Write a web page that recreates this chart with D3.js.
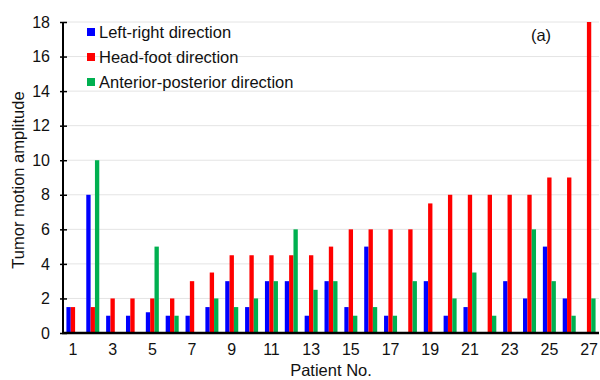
<!DOCTYPE html>
<html>
<head>
<meta charset="utf-8">
<script src="https://cdn.jsdelivr.net/npm/d3@7"></script>
<style>
  body { margin: 0; background: #fff; }
  text { font-family: "Liberation Sans", Arial, sans-serif; }
</style>
</head>
<body>
<svg id="canvas" width="600" height="380"></svg>
<script>
let patients = d3.range(1, 28);
let seriesNames = ['Left-right direction', 'Head-foot direction', 'Anterior-posterior direction'];
let seriesColors = ['#0000ff', '#ff0000', '#00b050'];

let leftRight = [1.5, 8, 1, 1, 1.2, 1, 1, 1.5, 3, 1.5, 3, 3, 1, 3, 1.5, 5, 1, 0, 3, 1, 1.5, 0, 3, 2, 5, 2, 0];
let headFoot = [1.5, 1.5, 2, 2, 2, 2, 3, 3.5, 4.5, 4.5, 4.5, 4.5, 4.5, 5, 6, 6, 6, 6, 7.5, 8, 8, 8, 8, 8, 9, 9, 18];
let antPost = [0, 10, 0, 0, 5, 1, 0, 2, 1.5, 2, 3, 6, 2.5, 3, 1, 1.5, 1, 3, 0, 2, 3.5, 1, 0, 6, 3, 1, 2];
let yTicks = [0, 2, 4, 6, 8, 10, 12, 14, 16, 18];

let allSeries = [leftRight, headFoot, antPost];

let svg = d3.select('#canvas');
let plotLeft = 63, plotRight = 599, plotTop = 22, plotBottom = 333;

let x = d3.scaleBand().domain(patients).range([plotLeft, plotRight]).padding(0);
let y = d3.scaleLinear().domain([0, 18]).range([plotBottom, plotTop]);
let groupWidth = 13;
let xInner = d3.scaleBand().domain([0, 1, 2]).range([0, groupWidth]);

// gridlines
svg.append('g')
  .selectAll('line')
  .data(yTicks.filter(d => d > 0))
  .enter()
  .append('line')
  .attr('x1', plotLeft)
  .attr('x2', plotRight)
  .attr('y1', d => y(d))
  .attr('y2', d => y(d))
  .attr('stroke', '#e4e4e4')
  .attr('stroke-width', 1);

// bars
allSeries.forEach((values, si) => {
  svg.append('g')
    .selectAll('rect')
    .data(values)
    .enter()
    .append('rect')
    .attr('x', (d, i) => x(patients[i]) + x.bandwidth() / 2 - groupWidth / 2 + xInner(si))
    .attr('width', xInner.bandwidth())
    .attr('y', d => y(d))
    .attr('height', d => plotBottom - y(d))
    .attr('fill', seriesColors[si]);
});

// y axis
let yAxis = svg.append('g')
  .attr('transform', 'translate(' + plotLeft + ',0)')
  .call(d3.axisLeft(y).tickValues(yTicks).tickSize(4).tickPadding(9));
yAxis.select('.domain').remove();
yAxis.selectAll('.tick line').attr('x1', 4).attr('x2', -3).attr('stroke', '#000').attr('stroke-width', 1.5);
yAxis.selectAll('.tick text').attr('font-size', 16).attr('fill', '#111').style('font-family', '"Liberation Sans", Arial, sans-serif');
svg.append('line')
  .attr('x1', plotLeft).attr('x2', plotLeft)
  .attr('y1', plotTop).attr('y2', plotBottom + 1)
  .attr('stroke', '#000').attr('stroke-width', 2);

// x axis
let xAxis = svg.append('g')
  .attr('transform', 'translate(0,' + plotBottom + ')')
  .call(d3.axisBottom(x).tickValues(patients.filter(d => d % 2 === 1)).tickSize(0).tickPadding(11));
xAxis.select('.domain').remove();
xAxis.selectAll('.tick text').attr('font-size', 16).attr('fill', '#111').style('font-family', '"Liberation Sans", Arial, sans-serif');
svg.append('line')
  .attr('x1', plotLeft - 1).attr('x2', plotRight)
  .attr('y1', plotBottom).attr('y2', plotBottom)
  .attr('stroke', '#000').attr('stroke-width', 2.5);

// axis titles
svg.append('text')
  .attr('transform', 'translate(24,180) rotate(-90)')
  .attr('text-anchor', 'middle')
  .attr('font-size', 16.5)
  .attr('fill', '#111')
  .text('Tumor motion amplitude');

svg.append('text')
  .attr('x', 331)
  .attr('y', 376)
  .attr('text-anchor', 'middle')
  .attr('font-size', 16.5)
  .attr('fill', '#111')
  .text('Patient No.');

svg.append('text')
  .attr('x', 541)
  .attr('y', 41)
  .attr('text-anchor', 'middle')
  .attr('font-size', 16.5)
  .attr('fill', '#111')
  .text('(a)');

// legend
let legend = svg.append('g');
seriesNames.forEach((name, i) => {
  let cy = 32 + i * 25;
  legend.append('rect')
    .attr('x', 87).attr('y', cy - 4)
    .attr('width', 8).attr('height', 8)
    .attr('fill', seriesColors[i]);
  legend.append('text')
    .attr('x', 99).attr('y', cy + 6)
    .attr('font-size', 16.5)
    .attr('fill', '#111')
    .text(name);
});
</script>
</body>
</html>
